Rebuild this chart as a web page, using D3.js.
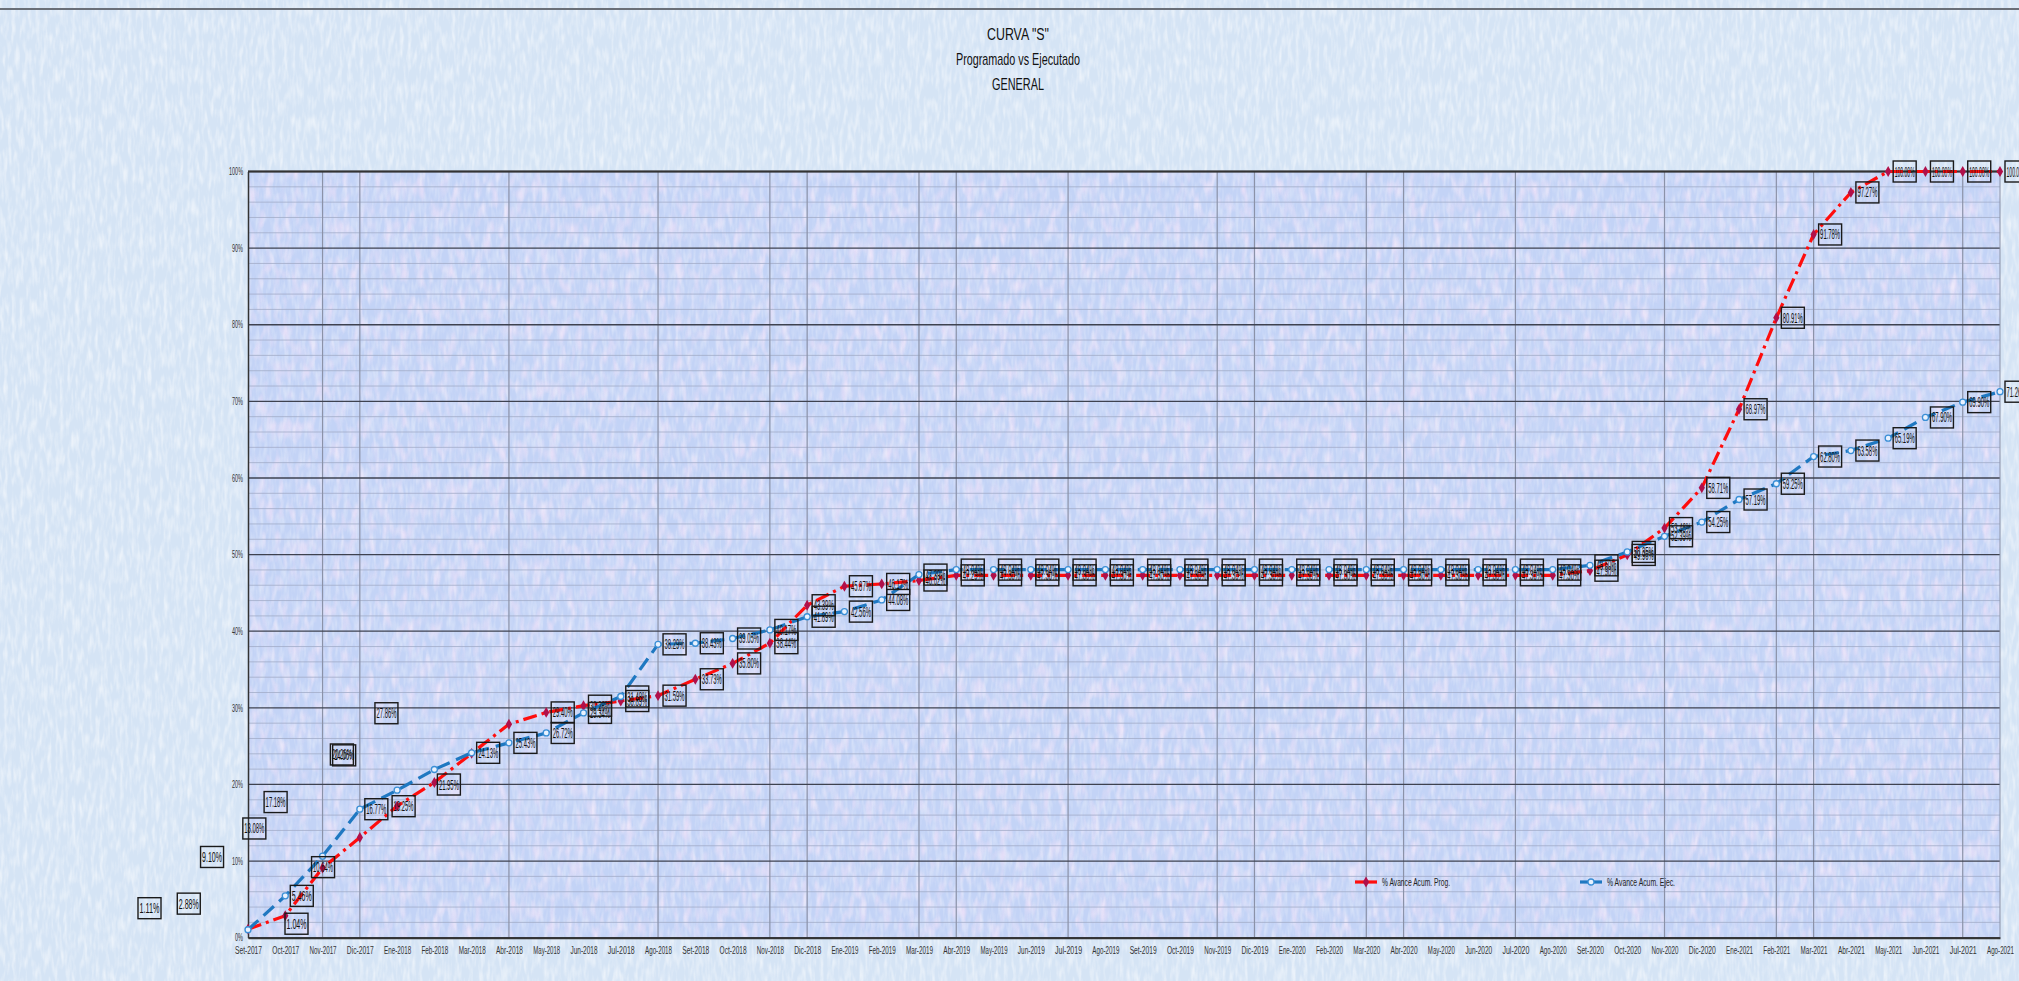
<!DOCTYPE html>
<html>
<head>
<meta charset="utf-8">
<script src="https://cdn.jsdelivr.net/npm/d3@7"></script>
<style>
  body { margin: 0; background: #d6e5f5; overflow: hidden; }
  text { font-family: "Liberation Sans Narrow", "Liberation Sans", Arial, sans-serif; }
</style>
</head>
<body>
<div id="chart"></div>
<script>
const width = 2019;
const height = 981;
const margins = { top: 171.5, bottom: 43.3, left: 248, right: 19 };

// DATA
const months = [
  "Set-2017", "Oct-2017", "Nov-2017", "Dic-2017", "Ene-2018", "Feb-2018",
  "Mar-2018", "Abr-2018", "May-2018", "Jun-2018", "Jul-2018", "Ago-2018",
  "Set-2018", "Oct-2018", "Nov-2018", "Dic-2018", "Ene-2019", "Feb-2019",
  "Mar-2019", "Abr-2019", "May-2019", "Jun-2019", "Jul-2019", "Ago-2019",
  "Set-2019", "Oct-2019", "Nov-2019", "Dic-2019", "Ene-2020", "Feb-2020",
  "Mar-2020", "Abr-2020", "May-2020", "Jun-2020", "Jul-2020", "Ago-2020",
  "Set-2020", "Oct-2020", "Nov-2020", "Dic-2020", "Ene-2021", "Feb-2021",
  "Mar-2021", "Abr-2021", "May-2021", "Jun-2021", "Jul-2021", "Ago-2021",
];

// % Avance Acum. Prog.
const progValues = [
  1.11, 2.88, 9.10, 13.08, 17.18, 20.26, 24.06, 27.86, 29.40, 30.28, 30.89, 31.59,
  33.73, 35.80, 38.44, 43.39, 45.87, 46.17, 46.62, 47.29, 47.30, 47.30, 47.30, 47.30,
  47.30, 47.30, 47.30, 47.30, 47.30, 47.30, 47.30, 47.30, 47.30, 47.30, 47.30, 47.30,
  47.90, 49.96, 53.46, 58.71, 68.97, 80.91, 91.78, 97.27, 100.00, 100.00, 100.00, 100.00,
];

// % Avance Acum. Ejec.
const execValues = [
  1.04, 5.46, 10.64, 16.77, 19.25, 21.95, 24.13, 25.43, 26.72, 29.34, 31.48, 38.29,
  38.43, 39.05, 40.17, 41.89, 42.56, 44.08, 47.39, 48.04, 48.04, 48.04, 48.04, 48.04,
  48.04, 48.04, 48.04, 48.04, 48.04, 48.04, 48.04, 48.04, 48.04, 48.04, 48.04, 48.04,
  48.60, 50.35, 52.39, 54.25, 57.19, 59.25, 62.80, 63.58, 65.19, 67.90, 69.90, 71.26,
];

const yTicks = [0, 10, 20, 30, 40, 50, 60, 70, 80, 90, 100];
const gridMonths = [
  "Nov-2017", "Dic-2017", "Abr-2018", "Ago-2018", "Nov-2018", "Dic-2018",
  "Mar-2019", "Abr-2019", "Jul-2019", "Nov-2019", "Dic-2019", "Mar-2020",
  "Abr-2020", "Jul-2020", "Nov-2020", "Feb-2021", "Mar-2021", "Jul-2021",
];
const titleLines = ['CURVA "S"', "Programado vs Ejecutado", "GENERAL"];
const seriesNames = ["% Avance Acum. Prog.", "% Avance Acum. Ejec."];

// labels dragged away from their points (offsets in px)
const progNudge = {
  0: [-115, -21], 1: [-113, -12], 2: [-127, -11], 3: [-122, -9],
  4: [-138, -4], 5: [-109, -28], 6: [-144, 2], 7: [-139, -11],
};
const execNudge = { 0: [32, -6], 2: [-16, 11], 4: [-10, 16], 5: [-2, 15] };

// SCALES
const xScale = d3
  .scalePoint()
  .domain(months)
  .range([margins.left, width - margins.right]);

const yScale = d3
  .scaleLinear()
  .domain([0, 100])
  .range([height - margins.bottom, margins.top]);

const svg = d3
  .select("#chart")
  .append("svg")
  .attr("width", width)
  .attr("height", height);

// TEXTURES
const defs = svg.append("defs");
const speckle = defs.append("filter").attr("id", "speckle")
  .attr("x", 0).attr("y", 0).attr("width", 1).attr("height", 1);
speckle.append("feTurbulence")
  .attr("type", "fractalNoise")
  .attr("baseFrequency", "0.25 0.06")
  .attr("numOctaves", 2)
  .attr("seed", 4);
speckle.append("feColorMatrix")
  .attr("type", "matrix")
  .attr("values", "0 0 0 0 1  0 0 0 0 1  0 0 0 0 1  2.2 0 0 0 -0.9");

const pinkNoise = defs.append("filter").attr("id", "pink")
  .attr("x", 0).attr("y", 0).attr("width", 1).attr("height", 1);
pinkNoise.append("feTurbulence")
  .attr("type", "fractalNoise")
  .attr("baseFrequency", "0.12 0.05")
  .attr("numOctaves", 2)
  .attr("seed", 9);
pinkNoise.append("feColorMatrix")
  .attr("type", "matrix")
  .attr("values", "0 0 0 0 0.93  0 0 0 0 0.78  0 0 0 0 0.95  2.4 0 0 0 -1.1");

svg.append("rect").attr("width", width).attr("height", height).attr("fill", "#d5e4f5");
svg.append("rect").attr("width", width).attr("height", height)
  .attr("filter", "url(#speckle)").attr("opacity", 0.55);

// top border of the sheet
svg.append("line")
  .attr("x1", 0).attr("x2", width)
  .attr("y1", 9).attr("y2", 9)
  .attr("stroke", "#6a6f78").attr("stroke-width", 2);

// PLOT AREA
const plotW = width - margins.right - margins.left;
const plotH = height - margins.bottom - margins.top;
svg.append("rect")
  .attr("x", margins.left).attr("y", margins.top)
  .attr("width", plotW).attr("height", plotH)
  .attr("fill", "#c3d3f6");
svg.append("rect")
  .attr("x", margins.left).attr("y", margins.top)
  .attr("width", plotW).attr("height", plotH)
  .attr("filter", "url(#pink)").attr("opacity", 0.7);
svg.append("rect")
  .attr("x", margins.left).attr("y", margins.top)
  .attr("width", plotW).attr("height", plotH)
  .attr("filter", "url(#speckle)").attr("opacity", 0.35);

// GRID
const grid = svg.append("g").attr("class", "grid");
grid.selectAll("line.minor")
  .data(d3.range(0, 101, 2).filter((d) => d % 10 !== 0))
  .join("line")
  .attr("class", "minor")
  .attr("x1", margins.left).attr("x2", width - margins.right)
  .attr("y1", (d) => yScale(d)).attr("y2", (d) => yScale(d))
  .attr("stroke", "#a2acc8").attr("stroke-width", 0.8);

grid.selectAll("line.vert")
  .data(gridMonths)
  .join("line")
  .attr("class", "vert")
  .attr("x1", (d) => xScale(d)).attr("x2", (d) => xScale(d))
  .attr("y1", margins.top).attr("y2", height - margins.bottom)
  .attr("stroke", "#8b92a8").attr("stroke-width", 1.2);

grid.selectAll("line.major")
  .data(yTicks)
  .join("line")
  .attr("class", "major")
  .attr("x1", margins.left).attr("x2", width - margins.right)
  .attr("y1", (d) => yScale(d)).attr("y2", (d) => yScale(d))
  .attr("stroke", "#3e4250").attr("stroke-width", 1.3);

svg.append("line")
  .attr("x1", width - margins.right).attr("x2", width - margins.right)
  .attr("y1", margins.top).attr("y2", height - margins.bottom)
  .attr("stroke", "#8b92a8").attr("stroke-width", 1);

// AXES
const yAxis = d3.axisLeft(yScale)
  .tickValues(yTicks)
  .tickSize(0)
  .tickPadding(5)
  .tickFormat((d) => `${d}%`);

svg.append("g")
  .attr("class", "y-axis")
  .attr("transform", `translate(${margins.left},0)`)
  .call(yAxis)
  .call((g) => g.select(".domain").attr("stroke", "#333").attr("stroke-width", 1.5))
  .selectAll("text")
  .attr("font-size", 10)
  .attr("fill", "#333")
  .attr("textLength", (d) => (d === 100 ? 14 : d === 0 ? 8 : 11))
  .attr("lengthAdjust", "spacingAndGlyphs");

const xAxis = d3.axisBottom(xScale).tickSize(0).tickPadding(9);
svg.append("g")
  .attr("class", "x-axis")
  .attr("transform", `translate(0,${height - margins.bottom})`)
  .call(xAxis)
  .call((g) => g.select(".domain").attr("stroke", "#333").attr("stroke-width", 2))
  .selectAll("text")
  .attr("font-size", 10)
  .attr("fill", "#333")
  .attr("textLength", 27)
  .attr("lengthAdjust", "spacingAndGlyphs");

svg.append("line")
  .attr("x1", margins.left).attr("x2", width - margins.right)
  .attr("y1", margins.top).attr("y2", margins.top)
  .attr("stroke", "#333").attr("stroke-width", 2);

// LINES
const series = [
  { name: seriesNames[0], values: progValues, color: "#ff0d0d", dash: "14,5,3,5", nudge: progNudge },
  { name: seriesNames[1], values: execValues, color: "#1f78c1", dash: "14,7", nudge: execNudge },
];

const lineGenerator = d3
  .line()
  .x((d, i) => xScale(months[i]))
  .y((d) => yScale(d));

series.forEach((s) => {
  svg.append("path")
    .attr("d", lineGenerator(s.values))
    .attr("fill", "none")
    .attr("stroke", s.color)
    .attr("stroke-width", 3.2)
    .attr("stroke-dasharray", s.dash);
});

// MARKERS
const diamond = d3.symbol().type(d3.symbolDiamond).size(34);
svg.selectAll("path.prog-marker")
  .data(progValues)
  .join("path")
  .attr("class", "prog-marker")
  .attr("d", diamond)
  .attr("transform", (d, i) => `translate(${xScale(months[i])},${yScale(d)})`)
  .attr("fill", "#b0104a");

svg.selectAll("circle.exec-marker")
  .data(execValues)
  .join("circle")
  .attr("class", "exec-marker")
  .attr("cx", (d, i) => xScale(months[i]))
  .attr("cy", (d) => yScale(d))
  .attr("r", 3)
  .attr("fill", "#e8f2ff")
  .attr("stroke", "#3a8fd6")
  .attr("stroke-width", 1.3);

// DATA LABELS
const boxW = 23;
const boxH = 21;
const fmt = (v) => `${v.toFixed(2)}%`;

series.forEach((s, si) => {
  const labels = svg.append("g").attr("class", `labels-${si}`);
  const pos = s.values.map((v, i) => {
    const [dx, dy] = s.nudge[i] || [0, 0];
    return {
      text: fmt(v),
      cx: xScale(months[i]) + 5 + boxW / 2 + dx,
      cy: yScale(v) + dy,
    };
  });
  labels.selectAll("rect")
    .data(pos)
    .join("rect")
    .attr("x", (d) => d.cx - boxW / 2)
    .attr("y", (d) => d.cy - boxH / 2)
    .attr("width", boxW)
    .attr("height", boxH)
    .attr("fill", "none")
    .attr("stroke", "#1a1a1a")
    .attr("stroke-width", 1.4);
  labels.selectAll("text")
    .data(pos)
    .join("text")
    .text((d) => d.text)
    .attr("x", (d) => d.cx)
    .attr("y", (d) => d.cy + 5)
    .attr("text-anchor", "middle")
    .attr("font-size", 14)
    .attr("fill", "#111")
    .attr("textLength", 20)
    .attr("lengthAdjust", "spacingAndGlyphs");
});

// LEGEND
const legend = svg.append("g").attr("class", "legend");
const legendX = [1355, 1580];
const legendY = 882;
series.forEach((s, i) => {
  const g = legend.append("g").attr("transform", `translate(${legendX[i]},${legendY})`);
  g.append("line")
    .attr("x1", 0).attr("x2", 22)
    .attr("stroke", s.color).attr("stroke-width", 3.2);
  if (i === 0) {
    g.append("path").attr("d", diamond).attr("transform", "translate(11,0)").attr("fill", "#b0104a");
  } else {
    g.append("circle").attr("cx", 11).attr("r", 3)
      .attr("fill", "#e8f2ff").attr("stroke", "#3a8fd6").attr("stroke-width", 1.3);
  }
  g.append("text")
    .text(s.name)
    .attr("x", 27)
    .attr("y", 4)
    .attr("font-size", 11)
    .attr("fill", "#222")
    .attr("textLength", 68)
    .attr("lengthAdjust", "spacingAndGlyphs");
});

// TITLE
const titleWidths = [62, 124, 52];
svg.selectAll("text.chart-title")
  .data(titleLines)
  .join("text")
  .attr("class", "chart-title")
  .text((d) => d)
  .attr("x", 1018)
  .attr("y", (d, i) => 40 + i * 25)
  .attr("text-anchor", "middle")
  .attr("font-size", 17)
  .attr("fill", "#111")
  .attr("textLength", (d, i) => titleWidths[i])
  .attr("lengthAdjust", "spacingAndGlyphs");
</script>
</body>
</html>
